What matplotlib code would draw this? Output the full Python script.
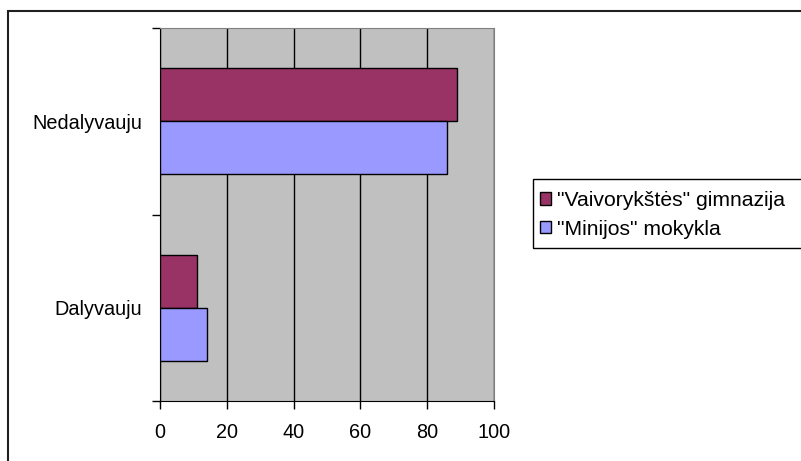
import numpy as np
import matplotlib.pyplot as plt
from matplotlib.patches import Rectangle, Patch

categories = ['Dalyvauju', 'Nedalyvauju']
vaivoryksztes = [11, 89]
minijos = [14, 86]
series_names = ['"Vaivorykštės" gimnazija', '"Minijos" mokykla']
x_ticks = [0, 20, 40, 60, 80, 100]

plt.rcParams['font.family'] = ['Liberation Sans', 'DejaVu Sans']

W, H = 801, 461
fig = plt.figure(figsize=(W / 100, H / 100), dpi=100)

# outer frame (right and bottom edges fall outside the picture)
fig.patches.append(Rectangle((7.5 / W, 0 - 0.02), 1.05, 1 - 11 / H + 0.02,
                             transform=fig.transFigure, fill=False,
                             edgecolor='#202020', linewidth=1.5))

ax = fig.add_axes([160 / W, 1 - 401 / H, (494 - 160) / W, (401 - 28) / H])
ax.set_facecolor('#C0C0C0')

y = np.arange(len(categories))
h = 0.283
ax.barh(y + h / 2, vaivoryksztes, height=h, color='#993366',
        edgecolor='black', linewidth=1, zorder=3)
ax.barh(y - h / 2, minijos, height=h, color='#9999FF',
        edgecolor='black', linewidth=1, zorder=3)

ax.set_xlim(0, 100)
ax.set_ylim(-0.5, 1.5)
ax.set_xticks(x_ticks)
ax.xaxis.grid(True, color='black', linewidth=1, zorder=1)
ax.set_axisbelow(True)

# category labels centred, tick marks on the boundaries
ax.set_yticks(y)
ax.set_yticklabels(categories)
ax.set_yticks([-0.5, 0.5, 1.5], minor=True)
ax.tick_params(axis='y', which='major', length=0, pad=13, labelsize=14.3)
ax.tick_params(axis='y', which='minor', length=6, width=1, color='black')
ax.tick_params(axis='x', length=6, width=1, color='black', labelsize=14.3, pad=10)

for s in ['top', 'right']:
    ax.spines[s].set_color('#808080')
for s in ['left', 'bottom']:
    ax.spines[s].set_color('black')

# legend box runs past the right edge of the picture
fig.patches.append(Rectangle((533 / W, 1 - 248 / H), 0.5, (248 - 179) / H,
                             transform=fig.transFigure, fill=False,
                             edgecolor='black', linewidth=1))

handles = [Patch(facecolor='#993366', edgecolor='black', linewidth=1),
           Patch(facecolor='#9999FF', edgecolor='black', linewidth=1)]
leg = fig.legend(handles, series_names, loc='upper left',
                 bbox_to_anchor=(533 / W, 1 - 184 / H),
                 fontsize=15.2, frameon=False,
                 handlelength=0.52, handleheight=0.52,
                 handletextpad=0.3, labelspacing=0.46, borderpad=0.33,
                 borderaxespad=0)

fig.savefig('out.png', dpi=100)
